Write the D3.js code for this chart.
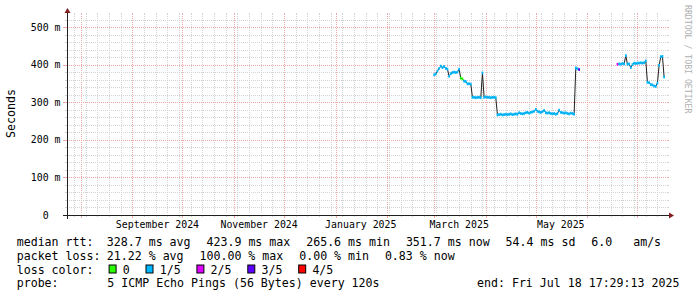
<!DOCTYPE html>
<html><head><meta charset="utf-8">
<script src="https://cdn.jsdelivr.net/npm/d3@7"></script>
<style>
html,body{margin:0;padding:0;background:#fff;}
svg{display:block;}
text{font-family:"DejaVu Sans Mono",monospace;white-space:pre;}
</style></head><body>
<svg id="chart" width="697" height="297"></svg>
<script>
// ---------- data ----------
const endTime = new Date(2025, 6, 18, 17, 29, 13);
const spanDays = 360;
const yMaxSeconds = 0.532;
const yTickValues = [0, 0.1, 0.2, 0.3, 0.4, 0.5];
const yTickLabels = ["0  ", "100 m", "200 m", "300 m", "400 m", "500 m"];
const xLabelTexts = ["September 2024", "November 2024", "January 2025", "March 2025", "May 2025"];
const xLabelMonths = [new Date(2024, 8, 1), new Date(2024, 10, 1), new Date(2025, 0, 1), new Date(2025, 2, 1), new Date(2025, 4, 1)];

// segment 1: daily medians (ms) from 1 Mar 2025
const seg1Start = new Date(2025, 2, 1);
const seg1Median = [373, 375, 383, 390, 396, 392, 395, 390, 388, 369,
  376, 379, 380, 379, 380, 388, 364, 362, 356, 355,
  349, 349, 348, 313, 313, 312, 313, 313, 312, 378,
  313, 314, 313, 313, 312, 313, 313, 312,
  266, 267, 268, 266, 267, 268, 267, 268, 269, 267,
  268, 269, 268, 272, 270, 269, 270, 272, 273, 271,
  273, 274, 276, 281, 276, 274, 273, 275, 278, 272,
  271, 272, 270, 269, 270, 268, 270, 279, 273, 272,
  271, 272, 270, 269, 271, 270,
  268, 391, 389, 387];
const seg1Loss = [1,1,1,1,1,1,1,1,1,1, 1,1,1,1,1,1,0,0,1,1, 1,1,1,1,1,1,1,1,1,1,
  1,1,1,1,1,1,1,1, 1,1,1,1,1,1,1,1,1,1, 1,1,1,1,1,1,1,1,1,1, 1,1,1,1,1,1,1,1,1,1,
  1,1,1,1,1,1,1,1,1,1, 1,1,1,1,1,1, 1,1,1,3];
// segment 2: daily medians (ms) from 19 Jun 2025
const seg2Start = new Date(2025, 5, 19);
const seg2Median = [401, 402, 401, 403, 402, 424, 401, 402, 392, 400,
  404, 403, 404, 404, 405, 404, 405, 410, 353, 352,
  347, 346, 343, 342, 351, 398, 421, 422, 367];
const seg2Loss = [2,1,1,1,1,1,1,1,1,1, 1,1,1,1,1,1,1,1,1,1, 1,1,1,1,1,1,1,1,1];

const lossKeys = ["0", "1/5", "2/5", "3/5", "4/5"];
const lossColors = ["#26ff00", "#00b8ff", "#dd00ff", "#5e00ff", "#ff0000"];

const legendRtt = ["328.7 ms avg", "423.9 ms max", "265.6 ms min", "351.7 ms now", "54.4 ms sd", "6.0   am/s"];
const legendLoss = ["21.22 % avg", "100.00 % max", "0.00 % min", "0.83 % now"];
const probeText = "5 ICMP Echo Pings (56 Bytes) every 120s";
const endText = "end: Fri Jul 18 17:29:13 2025";

// ---------- build ----------
const DAY = 86400000;
function buildSeries(start, med, loss) {
  return med.map((m, i) => ({ t: new Date(start.getTime() + i * DAY), v: m / 1000, loss: loss[i] }));
}
const series = [buildSeries(seg1Start, seg1Median, seg1Loss), buildSeries(seg2Start, seg2Median, seg2Loss)];

const X0 = 67, X1 = 667, Y0 = 215, Y1 = 15;
const startTime = new Date(endTime.getTime() - spanDays * DAY);
const x = d3.scaleTime().domain([startTime, endTime]).range([X0, X1]);
const y = d3.scaleLinear().domain([0, yMaxSeconds]).range([Y0, Y1]);

const svg = d3.select("#chart");
svg.append("rect").attr("width", 697).attr("height", 297).attr("fill", "#fff");

const gridCol = "#d3d3d3", mgridCol = "#efa8a8";
const px = v => Math.round(v) + 0.5;

// vertical minor grid (weekly)
const weeks = d3.timeSunday.range(startTime, endTime);
const months = d3.timeMonth.range(d3.timeMonth.ceil(startTime), endTime);
const gV = svg.append("g");
weeks.forEach(w => {
  const xx = px(x(w));
  gV.append("line").attr("x1", xx).attr("x2", xx).attr("y1", Y1 + 1).attr("y2", Y0 - 1)
    .attr("stroke", gridCol).attr("stroke-dasharray", "1,1");
  gV.append("line").attr("x1", xx).attr("x2", xx).attr("y1", Y1 - 2).attr("y2", Y1).attr("stroke", gridCol);
  gV.append("line").attr("x1", xx).attr("x2", xx).attr("y1", Y0).attr("y2", Y0 + 2).attr("stroke", gridCol);
});
// horizontal minor grid
const gH = svg.append("g");
d3.range(1, 27).filter(k => k % 5 !== 0).forEach(k => {
  const yy = px(y(k * 0.02));
  gH.append("line").attr("x1", X0).attr("x2", X1).attr("y1", yy).attr("y2", yy)
    .attr("stroke", gridCol).attr("stroke-dasharray", "1,1");
  gH.append("line").attr("x1", X0 - 2).attr("x2", X0).attr("y1", yy).attr("y2", yy).attr("stroke", gridCol);
  gH.append("line").attr("x1", X1).attr("x2", X1 + 2).attr("y1", yy).attr("y2", yy).attr("stroke", gridCol);
});
// major grid
months.forEach(m => {
  const xx = px(x(m));
  gV.append("line").attr("x1", xx).attr("x2", xx).attr("y1", Y1 + 1).attr("y2", Y0 - 1)
    .attr("stroke", mgridCol).attr("stroke-dasharray", "1,1");
  gV.append("line").attr("x1", xx).attr("x2", xx).attr("y1", Y1 - 2).attr("y2", Y1).attr("stroke", mgridCol);
  gV.append("line").attr("x1", xx).attr("x2", xx).attr("y1", Y0).attr("y2", Y0 + 3).attr("stroke", mgridCol);
});
yTickValues.slice(1).forEach(v => {
  const yy = px(y(v));
  gH.append("line").attr("x1", X0).attr("x2", X1).attr("y1", yy).attr("y2", yy)
    .attr("stroke", mgridCol).attr("stroke-dasharray", "1,1");
  gH.append("line").attr("x1", X0 - 4).attr("x2", X0).attr("y1", yy).attr("y2", yy).attr("stroke", mgridCol);
  gH.append("line").attr("x1", X1).attr("x2", X1 + 2).attr("y1", yy).attr("y2", yy).attr("stroke", mgridCol);
});

// y tick labels
yTickValues.forEach((v, i) => {
  svg.append("text").attr("x", 60.5).attr("y", y(v) + 3.6).attr("text-anchor", "end")
    .attr("font-size", "9.9px").attr("fill", "#000").text(yTickLabels[i]);
});
// x labels (centered half a month after month start)
xLabelMonths.forEach((m, i) => {
  const t = new Date(m.getTime() + 15 * DAY);
  svg.append("text").attr("x", x(t)).attr("y", 228.3).attr("text-anchor", "middle")
    .attr("font-size", "9.9px").attr("fill", "#000").text(xLabelTexts[i]);
});

// data: dark median line then loss-coloured band
const line = d3.line().x(d => x(d.t)).y(d => y(d.v));
series.forEach(s => {
  svg.append("path").attr("d", line(s)).attr("fill", "none").attr("stroke", "#202020").attr("stroke-width", 1);
});
series.forEach(s => {
  svg.append("g").selectAll("rect").data(s).join("rect")
    .attr("x", d => x(new Date(d.t.getTime() - DAY / 2)))
    .attr("width", d => x(new Date(d.t.getTime() + DAY / 2)) - x(new Date(d.t.getTime() - DAY / 2)))
    .attr("y", d => y(d.v) - 1.4).attr("height", 2.8)
    .attr("fill", d => lossColors[d.loss]);
});

// axes
const axisCol = "#1f1f1f", arrowCol = "#801f1f";
svg.append("line").attr("x1", X0 - 4).attr("x2", X1 + 4).attr("y1", Y0 + 0.5).attr("y2", Y0 + 0.5).attr("stroke", axisCol);
svg.append("line").attr("x1", X0 + 0.5).attr("x2", X0 + 0.5).attr("y1", Y0 + 4).attr("y2", Y1 - 4).attr("stroke", axisCol);
svg.append("path").attr("d", `M${X1 + 2},${Y0 + 0.5 - 3}L${X1 + 7},${Y0 + 0.5}L${X1 + 2},${Y0 + 0.5 + 3}Z`).attr("fill", arrowCol);
svg.append("path").attr("d", `M${X0 + 0.5 - 3},${Y1 - 2}L${X0 + 0.5},${Y1 - 7}L${X0 + 0.5 + 3},${Y1 - 2}Z`).attr("fill", arrowCol);

// y title
svg.append("text").attr("transform", "translate(11,113.5) rotate(-90)").attr("text-anchor", "middle")
  .attr("dominant-baseline", "central").attr("font-size", "11.6px").attr("fill", "#000").text("Seconds");
// watermark
svg.append("text").attr("transform", "translate(684.5,5) rotate(90)").attr("font-size", "8.2px")
  .attr("fill", "#b0b0b0").text("RRDTOOL / TOBI OETIKER");

// legend
const FS = "11.6px", CW = 7.0, GAP = 15.7, LX = 16.7, VX = 106.8;
const rows = [245.6, 259.6, 273.5, 287.4];
function label(xx, yy, s) {
  svg.append("text").attr("x", xx).attr("y", yy).attr("font-size", FS).attr("fill", "#000").text(s);
}
label(LX, rows[0], "median rtt:");
let cx = VX;
legendRtt.forEach(s => { label(cx, rows[0], s); cx += s.length * CW + GAP; });
label(LX, rows[1], "packet loss:");
cx = VX;
legendLoss.forEach(s => { label(cx, rows[1], s); cx += s.length * CW + GAP; });
label(LX, rows[2], "loss color:");
cx = VX + 1.8;
lossKeys.forEach((k, i) => {
  svg.append("rect").attr("x", cx + 0.5).attr("y", rows[2] - 8.5).attr("width", 7).attr("height", 8)
    .attr("fill", lossColors[i]).attr("stroke", "#000").attr("stroke-width", 1);
  label(cx + 14.2, rows[2], k);
  cx += 14.2 + k.length * CW + GAP;
});
label(LX, rows[3], "probe:");
label(VX + 0.5, rows[3], probeText);
label(477, rows[3], endText);
</script>
</body></html>
